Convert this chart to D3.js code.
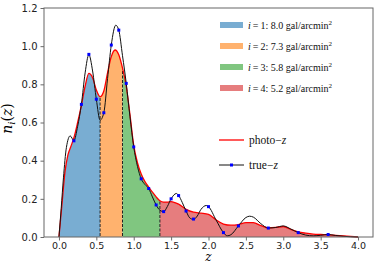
<!DOCTYPE html>
<html>
<head>
<meta charset="utf-8">
<script src="https://cdn.jsdelivr.net/npm/d3@7"></script>
<style>
  body { margin: 0; background: #fff; }
</style>
</head>
<body>
<div id="chart"></div>
<script>
// photo-z curve (red)
var photoZ = [0.00, 0.04, 0.08, 0.12, 0.16, 0.20, 0.25, 0.30, 0.35, 0.40, 0.45, 0.50, 0.55, 0.60, 0.65, 0.70, 0.75, 0.80, 0.85, 0.90, 0.95, 1.00, 1.05, 1.10, 1.15, 1.20, 1.25, 1.30, 1.35, 1.40, 1.45, 1.50, 1.55, 1.60, 1.70, 1.80, 1.90, 2.00, 2.10, 2.20, 2.30, 2.40, 2.50, 2.60, 2.70, 2.80, 2.90, 3.00, 3.10, 3.20, 3.30, 3.40, 3.50, 3.60, 3.70, 3.80, 3.90, 4.00];
var photoN = [0.00, 0.17, 0.34, 0.43, 0.475, 0.52, 0.60, 0.69, 0.79, 0.857, 0.835, 0.77, 0.735, 0.765, 0.86, 0.945, 0.98, 0.955, 0.885, 0.79, 0.64, 0.48, 0.39, 0.33, 0.29, 0.262, 0.235, 0.21, 0.19, 0.183, 0.183, 0.185, 0.18, 0.172, 0.145, 0.13, 0.125, 0.118, 0.09, 0.068, 0.062, 0.065, 0.075, 0.075, 0.06, 0.048, 0.05, 0.055, 0.04, 0.027, 0.02, 0.015, 0.013, 0.012, 0.009, 0.006, 0.003, 0.00];

// true-z curve (black)
var trueZ = [0.00, 0.03, 0.06, 0.10, 0.15, 0.20, 0.25, 0.30, 0.35, 0.40, 0.45, 0.50, 0.55, 0.60, 0.65, 0.70, 0.76, 0.80, 0.85, 0.90, 0.95, 1.00, 1.05, 1.10, 1.15, 1.20, 1.25, 1.30, 1.35, 1.40, 1.45, 1.50, 1.57, 1.60, 1.65, 1.70, 1.75, 1.80, 1.85, 1.90, 1.97, 2.00, 2.10, 2.20, 2.25, 2.30, 2.40, 2.50, 2.55, 2.60, 2.70, 2.80, 2.90, 3.00, 3.10, 3.20, 3.30, 3.40, 3.50, 3.60, 3.70, 3.80, 3.90, 4.00];
var trueN = [0.00, 0.15, 0.31, 0.47, 0.53, 0.505, 0.58, 0.695, 0.86, 0.955, 0.87, 0.722, 0.612, 0.651, 0.83, 1.006, 1.11, 1.084, 0.95, 0.805, 0.63, 0.472, 0.37, 0.305, 0.275, 0.254, 0.21, 0.168, 0.14, 0.133, 0.16, 0.20, 0.228, 0.218, 0.18, 0.136, 0.10, 0.092, 0.11, 0.145, 0.165, 0.159, 0.09, 0.023, 0.006, 0.012, 0.058, 0.102, 0.109, 0.104, 0.07, 0.047, 0.05, 0.058, 0.042, 0.023, 0.01, 0.006, 0.009, 0.013, 0.008, 0.004, 0.001, 0.00];

// blue sample markers on the true-z curve
var markerZ = [0.2, 0.3, 0.4, 0.5, 0.6, 0.7, 0.8, 0.9, 1.0, 1.1, 1.2, 1.3, 1.4, 1.5, 1.6, 1.7, 1.8, 2.0, 2.2, 2.4, 2.8, 3.2, 3.6];
var markerN = [0.504, 0.695, 0.957, 0.722, 0.651, 1.006, 1.084, 0.805, 0.472, 0.305, 0.254, 0.168, 0.133, 0.20, 0.217, 0.136, 0.094, 0.159, 0.023, 0.058, 0.047, 0.023, 0.013];

// tomographic bins
var binEdges = [0.0, 0.55, 0.85, 1.35, 4.0];
var binIndex = ["1", "2", "3", "4"];
var binDensity = ["8.0", "7.3", "5.8", "5.2"];
var binColors = ["#79add2", "#ffb26e", "#80c680", "#e67d7e"];

var xTicks = [0.0, 0.5, 1.0, 1.5, 2.0, 2.5, 3.0, 3.5, 4.0];
var yTicks = [0.0, 0.2, 0.4, 0.6, 0.8, 1.0, 1.2];

var margin = { top: 8, right: 4, bottom: 27, left: 44 },
    width = 377 - margin.left - margin.right,
    height = 264 - margin.top - margin.bottom;

var svg = d3.select("#chart")
    .append("svg")
    .attr("width", 377)
    .attr("height", 264)
    .append("g")
    .attr("transform", "translate(" + margin.left + "," + margin.top + ")");

var x = d3.scaleLinear().domain([-0.2, 4.2]).range([0, width]);
var y = d3.scaleLinear().domain([0, 1.2]).range([height, 0]);

var photo = photoZ.map(function(z, i) { return [z, photoN[i]]; });
var truth = trueZ.map(function(z, i) { return [z, trueN[i]]; });

var area = d3.area()
    .x(function(d) { return x(d[0]); })
    .y0(y(0))
    .y1(function(d) { return y(d[1]); })
    .curve(d3.curveMonotoneX);

var line = d3.line()
    .x(function(d) { return x(d[0]); })
    .y(function(d) { return y(d[1]); })
    .curve(d3.curveMonotoneX);

var defs = svg.append("defs");

// one clip per bin, the area is drawn in each
binIndex.forEach(function(b, i) {
    defs.append("clipPath")
        .attr("id", "bin" + i)
        .append("rect")
        .attr("x", x(binEdges[i]))
        .attr("y", 0)
        .attr("width", x(binEdges[i + 1]) - x(binEdges[i]))
        .attr("height", height);
    svg.append("path")
        .datum(photo)
        .attr("fill", binColors[i])
        .attr("clip-path", "url(#bin" + i + ")")
        .attr("d", area);
});

// dashed bin edges, clipped to the area under photo-z
defs.append("clipPath")
    .attr("id", "under")
    .append("path")
    .datum(photo)
    .attr("d", area);

svg.append("g")
    .attr("clip-path", "url(#under)")
    .selectAll("line")
    .data(binEdges.slice(1, 4))
    .enter()
    .append("line")
    .attr("x1", function(d) { return x(d); })
    .attr("x2", function(d) { return x(d); })
    .attr("y1", 0)
    .attr("y2", height)
    .attr("stroke", "#222")
    .attr("stroke-width", 1)
    .attr("stroke-dasharray", "3,1.5");

// photo-z line
svg.append("path")
    .datum(photo)
    .attr("fill", "none")
    .attr("stroke", "#ff0000")
    .attr("stroke-width", 1.3)
    .attr("d", line);

// true-z line
svg.append("path")
    .datum(truth)
    .attr("fill", "none")
    .attr("stroke", "#111")
    .attr("stroke-width", 1)
    .attr("d", line);

svg.append("g")
    .selectAll("rect")
    .data(markerZ)
    .enter()
    .append("rect")
    .attr("x", function(d) { return x(d) - 1.5; })
    .attr("y", function(d, i) { return y(markerN[i]) - 1.5; })
    .attr("width", 3)
    .attr("height", 3)
    .attr("fill", "#0000ff");

// axes
var xAxis = svg.append("g")
    .attr("transform", "translate(0," + height + ")")
    .call(d3.axisBottom(x).tickValues(xTicks).tickFormat(d3.format(".1f")).tickSizeOuter(0).tickSize(3.5).tickPadding(1.5));

var yAxis = svg.append("g")
    .call(d3.axisLeft(y).tickValues(yTicks).tickFormat(d3.format(".1f")).tickSizeOuter(0).tickSize(3.5).tickPadding(3));

[xAxis, yAxis].forEach(function(a) {
    a.select(".domain").remove();
    a.selectAll("line").attr("stroke", "#444").attr("stroke-width", 0.8);
    a.selectAll("text")
        .style("font-family", "DejaVu Sans")
        .style("font-size", "10px")
        .attr("fill", "#222");
});
xAxis.selectAll("text").style("font-size", "9.5px");

// frame
svg.append("rect")
    .attr("width", width)
    .attr("height", height)
    .attr("fill", "none")
    .attr("stroke", "#666")
    .attr("stroke-width", 1);

// axis labels
svg.append("text")
    .attr("x", width / 2)
    .attr("y", height + 24)
    .attr("text-anchor", "middle")
    .style("font-family", "DejaVu Serif")
    .style("font-style", "italic")
    .style("font-size", "12px")
    .text("z");

var ylab = svg.append("text")
    .attr("transform", "translate(" + (-32) + "," + (height / 2 - 4) + ") rotate(-90)")
    .attr("text-anchor", "middle")
    .style("font-family", "DejaVu Serif")
    .style("font-size", "14px");
ylab.append("tspan").style("font-style", "italic").text("n");
ylab.append("tspan").style("font-style", "italic").style("font-size", "10px").attr("dy", 3).text("i");
ylab.append("tspan").attr("dy", -3).text("(");
ylab.append("tspan").style("font-style", "italic").text("z");
ylab.append("tspan").text(")");

// legend for bins
var lx = 220 - margin.left, ly = 25 - margin.top, lstep = 21;
binIndex.forEach(function(b, i) {
    svg.append("rect")
        .attr("x", lx)
        .attr("y", ly + i * lstep - 3)
        .attr("width", 23)
        .attr("height", 6)
        .attr("fill", binColors[i]);
    var t = svg.append("text")
        .attr("x", lx + 28)
        .attr("y", ly + i * lstep + 3.5)
        .style("font-family", "Liberation Serif")
        .style("font-size", "10px")
        .attr("fill", "#111");
    t.append("tspan").style("font-style", "italic").text("i");
    t.append("tspan").text("\u2009=\u2009" + b + ":  " + binDensity[i] + " gal/arcmin");
    t.append("tspan").attr("dy", -4).style("font-size", "7px").text("2");
});

// legend for lines
var lx2 = 219 - margin.left;
svg.append("line")
    .attr("x1", lx2).attr("x2", lx2 + 25)
    .attr("y1", 140 - margin.top).attr("y2", 140 - margin.top)
    .attr("stroke", "#ff0000").attr("stroke-width", 1.3);
svg.append("line")
    .attr("x1", lx2).attr("x2", lx2 + 25)
    .attr("y1", 165 - margin.top).attr("y2", 165 - margin.top)
    .attr("stroke", "#111").attr("stroke-width", 1);
svg.append("rect")
    .attr("x", lx2 + 12.5 - 1.5).attr("y", 165 - margin.top - 1.5)
    .attr("width", 3).attr("height", 3)
    .attr("fill", "#0000ff");

var names = ["photo", "true"];
names.forEach(function(n, i) {
    var t = svg.append("text")
        .attr("x", lx2 + 30)
        .attr("y", 140 - margin.top + i * 25 + 4)
        .style("font-family", "Liberation Serif")
        .style("font-size", "11.5px")
        .attr("fill", "#111");
    t.append("tspan").text(n + "\u2212");
    t.append("tspan").style("font-style", "italic").text("z");
});
</script>
</body>
</html>
